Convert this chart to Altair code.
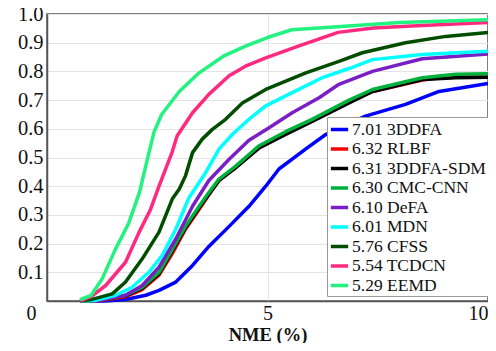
import altair as alt
import pandas as pd

labels = ["7.01 3DDFA", "6.32 RLBF", "6.31 3DDFA-SDM", "6.30 CMC-CNN", "6.10 DeFA",
          "6.01 MDN", "5.76 CFSS", "5.54 TCDCN", "5.29 EEMD"]
colors = ["#0000ff", "#ff0000", "#000000", "#00b03c", "#7a1fc6",
          "#00ffff", "#004d00", "#ff2a7f", "#22f27f"]

x_3ddfa = [0.75, 1.3, 1.78, 2.24, 2.54, 2.92, 3.3, 3.67, 4.13, 4.58, 4.96, 5.26, 5.87, 6.32, 7.22, 8.13, 8.89, 10]
y_3ddfa = [0.0, 0.0, 0.005, 0.02, 0.037, 0.066, 0.124, 0.19, 0.26, 0.33, 0.40, 0.46, 0.53, 0.58, 0.644, 0.685, 0.73, 0.758]

x_mid = [0.75, 1.2, 1.78, 2.16, 2.54, 2.84, 3.14, 3.45, 3.67, 3.9, 4.28, 4.8, 5.41, 6.0, 6.85, 7.38, 8.51, 9.27, 10]
y_rlbf = [0.0, 0.002, 0.015, 0.04, 0.09, 0.165, 0.25, 0.32, 0.37, 0.42, 0.465, 0.535, 0.585, 0.628, 0.695, 0.73, 0.77, 0.785, 0.79]
y_sdm = [0.0, 0.003, 0.018, 0.045, 0.095, 0.175, 0.255, 0.325, 0.372, 0.42, 0.465, 0.532, 0.58, 0.625, 0.69, 0.73, 0.772, 0.778, 0.78]
y_cmc = [0.0, 0.003, 0.02, 0.048, 0.1, 0.18, 0.26, 0.33, 0.378, 0.425, 0.47, 0.54, 0.59, 0.632, 0.70, 0.737, 0.778, 0.79, 0.792]

x_defa = [0.75, 1.2, 1.78, 2.16, 2.54, 2.92, 3.3, 3.67, 4.13, 4.58, 5.0, 5.56, 6.17, 6.62, 7.38, 8.51, 10]
y_defa = [0.0, 0.003, 0.02, 0.054, 0.118, 0.216, 0.33, 0.42, 0.494, 0.56, 0.60, 0.656, 0.708, 0.755, 0.80, 0.844, 0.861]

x_mdn = [0.75, 1.1, 1.56, 1.93, 2.31, 2.61, 2.92, 3.22, 3.6, 3.9, 4.2, 4.58, 4.96, 5.56, 6.24, 6.85, 7.38, 8.51, 10]
y_mdn = [0.0, 0.002, 0.02, 0.048, 0.1, 0.158, 0.25, 0.36, 0.448, 0.529, 0.58, 0.633, 0.68, 0.726, 0.778, 0.81, 0.841, 0.859, 0.87]

x_cfss = [0.75, 1.0, 1.48, 1.78, 2.16, 2.54, 2.84, 3.0, 3.14, 3.3, 3.52, 3.75, 4.05, 4.43, 4.96, 5.87, 6.62, 7.15, 8.13, 9.04, 10]
y_cfss = [0.0, 0.005, 0.025, 0.066, 0.147, 0.24, 0.355, 0.39, 0.436, 0.517, 0.564, 0.598, 0.633, 0.69, 0.737, 0.795, 0.835, 0.865, 0.9, 0.922, 0.936]

x_tcdcn = [0.75, 1.0, 1.33, 1.78, 2.09, 2.35, 2.54, 2.84, 2.95, 3.3, 3.67, 4.13, 4.5, 4.96, 5.7, 6.6, 7.4, 8.5, 10]
y_tcdcn = [0.0, 0.015, 0.054, 0.135, 0.24, 0.32, 0.40, 0.52, 0.575, 0.656, 0.72, 0.785, 0.818, 0.847, 0.888, 0.936, 0.951, 0.96, 0.97]

x_eemd = [0.75, 1.0, 1.25, 1.55, 1.85, 2.1, 2.27, 2.43, 2.6, 2.8, 3.0, 3.45, 4.0, 4.5, 5.0, 5.55, 6.5, 8.0, 10]
y_eemd = [0.005, 0.02, 0.077, 0.18, 0.27, 0.38, 0.49, 0.59, 0.65, 0.69, 0.73, 0.795, 0.853, 0.888, 0.918, 0.945, 0.955, 0.97, 0.98]

series = [
    (labels[0], x_3ddfa, y_3ddfa),
    (labels[1], x_mid, y_rlbf),
    (labels[2], x_mid, y_sdm),
    (labels[3], x_mid, y_cmc),
    (labels[4], x_defa, y_defa),
    (labels[5], x_mdn, y_mdn),
    (labels[6], x_cfss, y_cfss),
    (labels[7], x_tcdcn, y_tcdcn),
    (labels[8], x_eemd, y_eemd),
]

rows = []
for k, (name, xs, ys) in enumerate(series):
    for i, (a, b) in enumerate(zip(xs, ys)):
        rows.append({"method": name, "x": a, "y": b, "i": i, "k": k})
df = pd.DataFrame(rows)

FONT = "Liberation Serif"

chart = alt.Chart(df).mark_line(strokeWidth=3.5, strokeJoin="round").encode(
    x=alt.X("x:Q", scale=alt.Scale(domain=[0, 10], nice=False),
            axis=alt.Axis(values=[0, 5, 10], title="NME (%)", grid=True,
                          gridColor={"condition": {"test": "datum.value == 5", "value": "#e4e4e4"}, "value": "transparent"},
                          labelAlign={"condition": {"test": "datum.value == 10", "value": "right"}, "value": "center"},
                          labelOffset={"condition": {"test": "datum.value == 0", "value": -16}, "value": 0},
                          labelFlush=False, labelOverlap=False, tickSize=0, labelPadding=2,
                          labelFontSize=20,
                          titleY=39, titleBaseline="alphabetic",
                          titleFontWeight="bold", titleFontSize=18.5)),
    y=alt.Y("y:Q", scale=alt.Scale(domain=[0, 1], nice=False),
            axis=alt.Axis(values=[0.1, 0.2, 0.3, 0.4, 0.5, 0.6, 0.7, 0.8, 0.9, 1.0],
                          format=".1f", title=None, tickSize=0, labelPadding=4,
                          labelFontSize=20.5, gridColor="#e4e4e4")),
    color=alt.Color("method:N", scale=alt.Scale(domain=labels, range=colors),
                    legend=alt.Legend(title=None, orient="none", legendX=280, legendY=103,
                                      symbolType="stroke", symbolSize=300, symbolStrokeWidth=3.5,
                                      labelFontSize=17.5, labelFont=FONT, labelColor="#111",
                                      rowPadding=0.5, padding=2, labelOffset=2,
                                      fillColor="white", strokeColor="#999",
                                      labelLimit=300)),
    order=alt.Order("i:Q"),
    detail="k:N",
).properties(
    width=441, height=287,
    autosize=alt.AutoSizeParams(type="none"),
    padding={"left": 39, "top": 6, "right": 0, "bottom": 42},
).configure_view(
    stroke="#555", strokeWidth=1.5
).configure_axis(
    labelFont=FONT, titleFont=FONT, labelColor="#111", titleColor="#111",
    domainColor="#555", domainWidth=1.5, gridWidth=1
)

chart.save("out.html", embed_options={"renderer": "svg", "actions": False})
